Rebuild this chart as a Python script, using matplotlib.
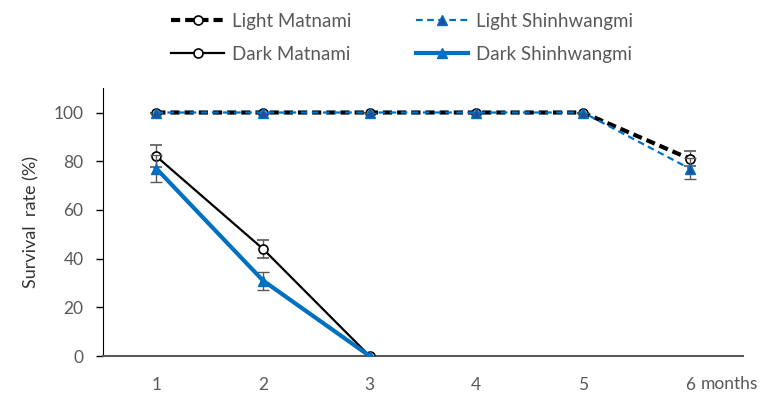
import matplotlib
matplotlib.use("Agg")
import matplotlib.pyplot as plt
import matplotlib.transforms as mtransforms

months = [1, 2, 3, 4, 5, 6]
dark_months = [1, 2, 3]

light_matnami = [100, 100, 100, 100, 100, 81]
light_matnami_err = [0, 0, 0, 0, 0, 3]
light_shin = [100, 100, 100, 100, 100, 77]
light_shin_err = [0, 0, 0, 0, 0, 4.5]
dark_matnami = [82, 44, 0]
dark_matnami_err = [4.5, 3.7, 0]
dark_shin = [77, 31, 0]
dark_shin_err = [5.5, 3.7, 0]

BLUE = "#0070C0"
GREY = "#595959"
plt.rcParams["font.family"] = ["Lato", "DejaVu Sans"]

fig = plt.figure(figsize=(7.74, 3.98), dpi=100)
ax = fig.add_axes([0.133, 0.1055, 0.827, 0.673])

ekw = dict(ecolor=GREY, elinewidth=1, capsize=4, capthick=1)

lm = ax.errorbar(months, light_matnami, yerr=light_matnami_err, color="black",
                 ls=(0, (2.2, 1.2)), lw=3, marker="o", ms=6.5, mfc="white",
                 mec="black", mew=1.2, zorder=3, **ekw)
dm = ax.errorbar(dark_months, dark_matnami, yerr=dark_matnami_err,
                 color="black", ls="-", lw=1.6, marker="o", ms=6.5,
                 mfc="white", mec="black", mew=1.2, zorder=3, **ekw)
ls_ = ax.errorbar(months, light_shin, yerr=light_shin_err, color=BLUE,
                  ls=(0, (3, 2)), lw=1.6, marker="^", ms=6.5, mfc="#1F4E9A",
                  mec=BLUE, mew=1, zorder=4, **ekw)
ds = ax.errorbar(dark_months, dark_shin, yerr=dark_shin_err, color=BLUE,
                 ls="-", lw=3, marker="^", ms=6.5, mfc=BLUE, mec=BLUE,
                 zorder=4, **ekw)

ax.set_xlim(0.5, 6.5)
ax.set_ylim(0, 110)
ax.set_yticks([0, 20, 40, 60, 80, 100])
ax.set_xticks(months)
for s in ["top", "right"]:
    ax.spines[s].set_visible(False)
ax.spines["left"].set_color("black")
ax.spines["bottom"].set_color(GREY)
ax.spines["bottom"].set_linewidth(1.5)
ax.tick_params(axis="y", direction="out", length=5, width=1, pad=9,
               labelsize=12.5, labelcolor=GREY)
ax.tick_params(axis="x", length=0, pad=15, labelsize=12.5, labelcolor=GREY)
ax.set_ylabel("Survival  rate (%)", fontsize=13, color="#333333", labelpad=10)

trans = mtransforms.blended_transform_factory(ax.transData, ax.transAxes)
ax.text(6.1, -0.076, "months", transform=trans, fontsize=12.5, color=GREY,
        ha="left", va="top")

handles = [lm[0], dm[0], ls_[0], ds[0]]
labels = ["Light Matnami", "Dark Matnami", "Light Shinhwangmi",
          "Dark Shinhwangmi"]
fig.legend(handles, labels, ncol=2, loc="upper center",
           bbox_to_anchor=(0.52, 1.01), frameon=False, fontsize=13.5,
           labelcolor=GREY, handlelength=2.8, columnspacing=3.4,
           labelspacing=0.85, handletextpad=0.45)

fig.savefig("out.png", dpi=100)
